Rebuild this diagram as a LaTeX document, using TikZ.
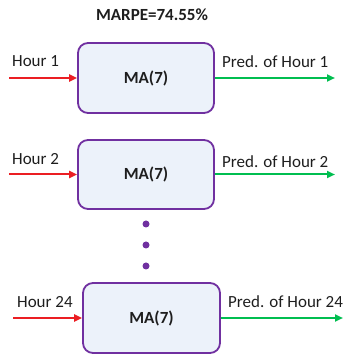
\documentclass[tikz,border=0pt]{standalone}
\usepackage{fontspec}
\setmainfont{Carlito}
\usetikzlibrary{arrows.meta}
\definecolor{boxpurple}{RGB}{112,48,160}
\definecolor{boxfill}{RGB}{236,242,250}
\definecolor{inred}{RGB}{235,30,35}
\definecolor{outgreen}{RGB}{0,190,80}
\definecolor{txt}{RGB}{30,30,30}
\tikzset{
  mabox/.style={draw=boxpurple, line width=1.8bp, fill=boxfill, rounded corners=10bp,
    minimum width=136bp, minimum height=70bp, inner sep=0pt,
    font=\fontsize{17bp}{20bp}\selectfont\bfseries, text=txt},
  lbl/.style={anchor=base west, inner sep=0pt, font=\fontsize{17bp}{20bp}\selectfont, text=txt},
  inarrow/.style={draw=inred, line width=2bp, -{Triangle[length=8bp,width=7bp]}},
  outarrow/.style={draw=outgreen, line width=2bp, -{Triangle[length=8bp,width=7bp]}},
  vdot/.style={circle, fill=boxpurple, inner sep=0pt, minimum size=7bp}
}
\begin{document}
\begin{tikzpicture}[x=1bp,y=1bp]
\useasboundingbox (0,0) rectangle (344,358);
\node[font=\fontsize{17bp}{20bp}\selectfont\bfseries, text=txt] (title) at (152,343) {MARPE=74.55\%};
% box 1
\node[mabox] (b1) at (146,280) {MA(7)};
\coordinate (i1) at (9,280);
\coordinate (o1) at (335,280);
\draw[inarrow] (i1) -- (b1.west);
\draw[outarrow] (b1.east) -- (o1);
\node[lbl] (h1) at (12,292) {Hour 1};
\node[lbl] (p1) at (222,291) {Pred. of Hour 1};
% box 2
\node[mabox, minimum height=69bp] (b2) at (146,183.5) {MA(7)};
\coordinate (i2) at (9,183.5);
\coordinate (o2) at (335,183.5);
\draw[inarrow] (i2) -- (b2.west);
\draw[outarrow] (b2.east) -- (o2);
\node[lbl] (h2) at (12,194) {Hour 2};
\node[lbl] (p2) at (222,191) {Pred. of Hour 2};
% dots
\node[vdot] (d1) at (146,134) {};
\node[vdot] (d2) at (146,113) {};
\node[vdot] (d3) at (146,92) {};
% box 3
\node[mabox, minimum width=137bp] (b3) at (151.5,40) {MA(7)};
\coordinate (i3) at (13,40);
\coordinate (o3) at (343,40);
\draw[inarrow] (i3) -- (b3.west);
\draw[outarrow] (b3.east) -- (o3);
\node[lbl] (h3) at (17,51) {Hour 24};
\node[lbl] (p3) at (228,51) {Pred. of Hour 24};
\end{tikzpicture}
\end{document}
